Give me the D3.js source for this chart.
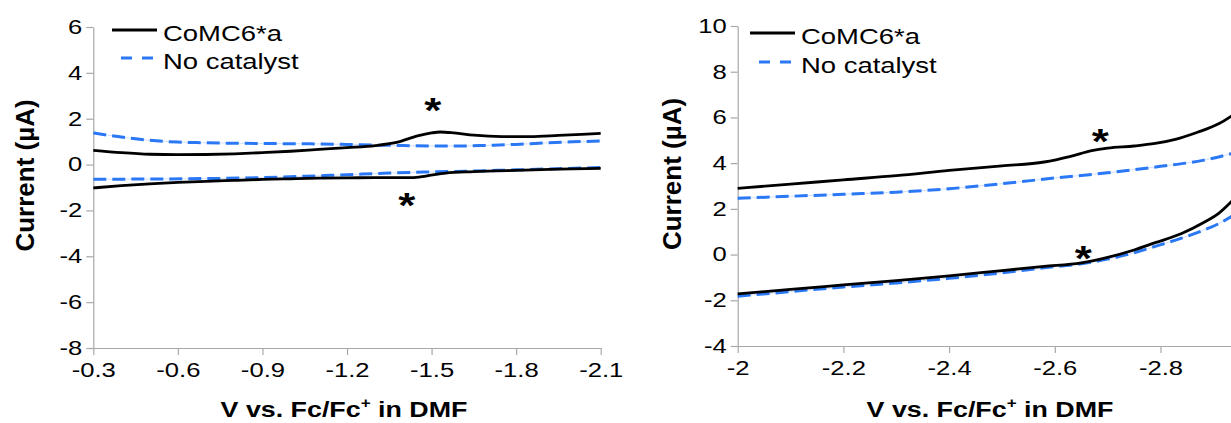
<!DOCTYPE html>
<html>
<head>
<meta charset="utf-8">
<script src="https://cdn.jsdelivr.net/npm/d3@7"></script>
<style>
  html, body { margin: 0; padding: 0; background: #fff; }
  svg { display: block; }
  text { font-family: "Liberation Sans", Arial, sans-serif; fill: #000; }
</style>
</head>
<body>
<svg id="chart" width="1231" height="423"></svg>
<script>
// ---- Cyclic voltammograms, potential in V vs Fc/Fc+, current in µA ----

// Left panel: full window -0.3 .. -2.1 V
const leftXTicks = [-0.3, -0.6, -0.9, -1.2, -1.5, -1.8, -2.1];
const leftYTicks = [-8, -6, -4, -2, 0, 2, 4, 6];

// CoMC6*a, upper (return) branch
const leftCatUpV = [-0.30, -0.40, -0.50, -0.60, -0.70, -0.80, -0.90, -1.00, -1.10, -1.20, -1.30, -1.38, -1.45, -1.50, -1.53, -1.58, -1.65, -1.75, -1.85, -1.95, -2.05, -2.10];
const leftCatUpI = [0.62, 0.52, 0.45, 0.43, 0.44, 0.47, 0.52, 0.58, 0.66, 0.74, 0.83, 0.98, 1.25, 1.38, 1.42, 1.38, 1.28, 1.22, 1.22, 1.27, 1.33, 1.36];
// CoMC6*a, lower (forward) branch
const leftCatDnV = [-0.30, -0.40, -0.50, -0.60, -0.70, -0.80, -0.90, -1.00, -1.10, -1.20, -1.30, -1.38, -1.43, -1.48, -1.55, -1.65, -1.80, -1.95, -2.10];
const leftCatDnI = [-1.02, -0.92, -0.84, -0.78, -0.73, -0.69, -0.65, -0.62, -0.59, -0.58, -0.57, -0.57, -0.57, -0.50, -0.37, -0.31, -0.25, -0.20, -0.17];
// No catalyst, upper branch
const leftBlankUpV = [-0.30, -0.40, -0.50, -0.60, -0.70, -0.80, -0.90, -1.00, -1.10, -1.20, -1.30, -1.40, -1.50, -1.60, -1.70, -1.80, -1.90, -2.00, -2.10];
const leftBlankUpI = [1.38, 1.20, 1.06, 0.98, 0.95, 0.93, 0.92, 0.91, 0.90, 0.88, 0.85, 0.83, 0.81, 0.81, 0.84, 0.88, 0.94, 0.99, 1.03];
// No catalyst, lower branch
const leftBlankDnV = [-0.30, -0.50, -0.70, -0.90, -1.05, -1.20, -1.35, -1.50, -1.65, -1.80, -1.95, -2.10];
const leftBlankDnI = [-0.64, -0.63, -0.61, -0.57, -0.51, -0.44, -0.37, -0.32, -0.28, -0.23, -0.18, -0.13];

// Right panel: cathodic window -2.0 .. -3.0 V
const rightXTicks = [-2, -2.2, -2.4, -2.6, -2.8];
const rightYTicks = [-4, -2, 0, 2, 4, 6, 8, 10];

const rightCatUpV = [-2.00, -2.10, -2.20, -2.30, -2.40, -2.50, -2.58, -2.63, -2.67, -2.70, -2.75, -2.79, -2.83, -2.87, -2.91, -2.94];
const rightCatUpI = [2.90, 3.08, 3.27, 3.45, 3.68, 3.88, 4.05, 4.30, 4.55, 4.66, 4.75, 4.86, 5.05, 5.35, 5.72, 6.15];
const rightCatDnV = [-2.00, -2.10, -2.20, -2.30, -2.40, -2.50, -2.58, -2.65, -2.70, -2.75, -2.79, -2.84, -2.88, -2.91, -2.94];
const rightCatDnI = [-1.72, -1.52, -1.33, -1.14, -0.93, -0.70, -0.52, -0.36, -0.12, 0.20, 0.52, 0.92, 1.38, 1.80, 2.45];
const rightBlankUpV = [-2.00, -2.10, -2.20, -2.30, -2.40, -2.50, -2.60, -2.70, -2.80, -2.88, -2.94];
const rightBlankUpI = [2.46, 2.55, 2.64, 2.73, 2.88, 3.10, 3.35, 3.58, 3.86, 4.12, 4.45];
const rightBlankDnV = [-2.00, -2.10, -2.20, -2.30, -2.40, -2.50, -2.58, -2.65, -2.70, -2.75, -2.79, -2.84, -2.88, -2.91, -2.94];
const rightBlankDnI = [-1.82, -1.62, -1.42, -1.24, -1.04, -0.80, -0.58, -0.40, -0.20, 0.08, 0.36, 0.72, 1.05, 1.35, 1.75];

// Features marked with an asterisk (potential, current at glyph centre)
const leftStarV = [-1.504, -1.412];
const leftStarI = [2.74, -1.40];
const rightStarV = [-2.686, -2.654];
const rightStarI = [5.32, 0.22];

const seriesNames = ["CoMC6*a", "No catalyst"];

// ---- drawing ----
const svg = d3.select("#chart");
const BLUE = "#2a78f5";
const AXIS = "#a8a8a8";
const SX = 1.22; // horizontal text stretch

function zip(v, i) { return v.map((d, k) => [d, i[k]]); }

function drawPanel(cfg) {
  const g = svg.append("g");
  const x = d3.scaleLinear().domain(cfg.xDomain).range(cfg.xRange);
  const y = d3.scaleLinear().domain(cfg.yDomain).range(cfg.yRange);

  // axes
  const ax = g.append("g")
    .attr("transform", `translate(0,${cfg.yRange[0]})`)
    .call(d3.axisBottom(x).tickValues(cfg.xTicks).tickSize(7).tickSizeOuter(0)
      .tickPadding(7).tickFormat(d => String(d)));
  const ay = g.append("g")
    .attr("transform", `translate(${cfg.xRange[0]},0)`)
    .call(d3.axisLeft(y).tickValues(cfg.yTicks).tickSize(7).tickSizeOuter(0)
      .tickPadding(2).tickFormat(d => String(d)));
  [ax, ay].forEach(a => {
    a.select(".domain").attr("stroke", AXIS).attr("stroke-width", 1.2);
    a.selectAll(".tick line").attr("stroke", AXIS).attr("stroke-width", 1.2);
    a.selectAll(".tick text")
      .attr("fill", "#000")
      .style("font-size", "21px")
      .style("font-family", '"Liberation Sans", Arial, sans-serif')
      .attr("transform", `scale(${SX},1)`);
  });
  ax.selectAll(".tick text").attr("dy", "0.71em");
  ay.selectAll(".tick text").attr("dy", "0.3em");

  // curves
  const line = d3.line().x(d => x(d[0])).y(d => y(d[1])).curve(d3.curveMonotoneX);
  cfg.blank.forEach(s => {
    g.append("path").attr("d", line(s)).attr("fill", "none")
      .attr("stroke", "#cfe0ff").attr("stroke-width", 1);
    g.append("path").attr("d", line(s)).attr("fill", "none")
      .attr("stroke", BLUE).attr("stroke-width", 3)
      .attr("stroke-dasharray", "13,6");
  });
  cfg.cat.forEach(s => {
    g.append("path").attr("d", line(s)).attr("fill", "none")
      .attr("stroke", "#000").attr("stroke-width", 2.8)
      .attr("stroke-linejoin", "round");
  });

  // asterisks
  cfg.starV.forEach((v, k) => {
    g.append("text")
      .attr("transform", `translate(${x(v)},${y(cfg.starI[k]) + 20}) scale(${SX},1)`)
      .attr("text-anchor", "middle")
      .style("font-size", "36px").style("font-weight", "bold")
      .text("*");
  });

  // legend
  const lg = g.append("g");
  const L = cfg.legend;
  lg.append("line").attr("x1", L.x0).attr("x2", L.x1).attr("y1", L.y0).attr("y2", L.y0)
    .attr("stroke", "#000").attr("stroke-width", 2.8);
  lg.append("line").attr("x1", L.x0 + 9).attr("x2", L.x1).attr("y1", L.y1).attr("y2", L.y1)
    .attr("stroke", BLUE).attr("stroke-width", 3).attr("stroke-dasharray", "11,10");
  [L.y0, L.y1].forEach((yy, k) => {
    lg.append("text")
      .attr("transform", `translate(${L.tx},${yy + 10.5}) scale(${SX},1)`)
      .style("font-size", "22.5px")
      .text(seriesNames[k]);
  });

  // axis titles
  const xt = g.append("text")
    .attr("transform", `translate(${cfg.xTitleX},${417}) scale(${SX},1)`)
    .attr("text-anchor", "middle")
    .style("font-size", "22px").style("font-weight", "bold");
  xt.append("tspan").text("V vs. Fc/Fc");
  xt.append("tspan").attr("dy", "-9").style("font-size", "14px").text("+");
  xt.append("tspan").attr("dy", "9").text(" in DMF");

  g.append("text")
    .attr("transform", `translate(${cfg.yTitleX},${(cfg.yRange[0] + cfg.yRange[1]) / 2 - 12}) rotate(-90)`)
    .attr("text-anchor", "middle")
    .attr("dy", "0.35em")
    .style("font-size", "26px").style("font-weight", "bold")
    .text("Current (µA)");
}

drawPanel({
  xDomain: [-0.3, -2.1], xRange: [93.3, 600.7],
  yDomain: [-8, 6], yRange: [348, 27],
  xTicks: leftXTicks, yTicks: leftYTicks,
  cat: [zip(leftCatUpV, leftCatUpI), zip(leftCatDnV, leftCatDnI)],
  blank: [zip(leftBlankUpV, leftBlankUpI), zip(leftBlankDnV, leftBlankDnI)],
  starV: leftStarV, starI: leftStarI,
  legend: { x0: 112, x1: 157, y0: 30, y1: 58, tx: 163 },
  xTitleX: 344, yTitleX: 25
});

drawPanel({
  xDomain: [-2, -3], xRange: [737.7, 1266.2],
  yDomain: [-4, 10], yRange: [346, 26],
  xTicks: rightXTicks, yTicks: rightYTicks,
  cat: [zip(rightCatUpV, rightCatUpI), zip(rightCatDnV, rightCatDnI)],
  blank: [zip(rightBlankUpV, rightBlankUpI), zip(rightBlankDnV, rightBlankDnI)],
  starV: rightStarV, starI: rightStarI,
  legend: { x0: 750, x1: 795, y0: 33, y1: 62, tx: 801 },
  xTitleX: 990, yTitleX: 672
});
</script>
</body>
</html>
